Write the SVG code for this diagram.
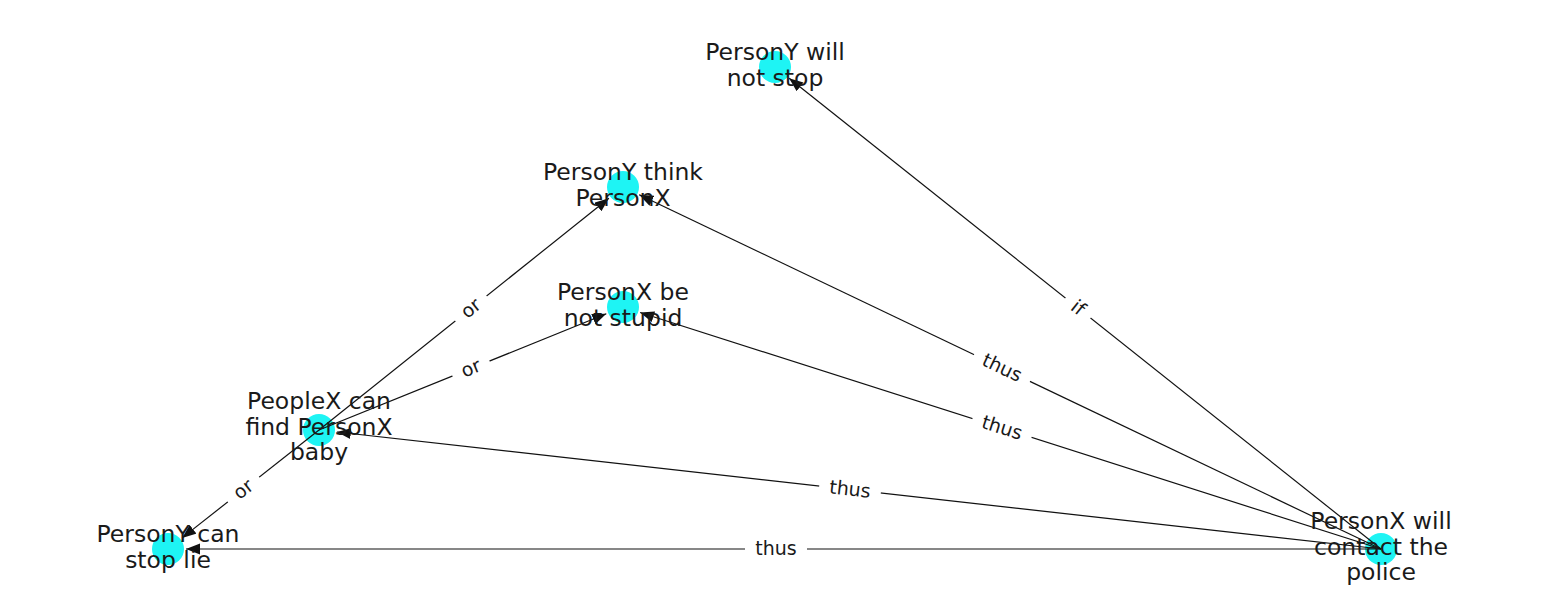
<svg xmlns="http://www.w3.org/2000/svg" width="1550" height="616" viewBox="0 0 1550 616">
<defs>
<marker id="arr" markerUnits="userSpaceOnUse" markerWidth="15" markerHeight="12" refX="14" refY="5.5" orient="auto">
<path d="M0,0 L14,5.5 L0,11 z" fill="#111"/>
</marker>
<style>
.node circle{fill:#1ef4f4;}
.node text{font-family:"DejaVu Sans",sans-serif;font-size:23.5px;fill:#1a1a1a;text-anchor:middle;}
.edge line{stroke:#111;stroke-width:1.2;marker-end:url(#arr);}
.lbl rect{fill:#fff;}
.lbl text{font-family:"DejaVu Sans",sans-serif;font-size:19px;fill:#1a1a1a;text-anchor:middle;}
</style>
</defs>
<rect width="1550" height="616" fill="#fff"/>
<g id="node-circles">
<g class="node" id="n1c"><circle cx="775" cy="67" r="16"/></g>
<g class="node" id="n2c"><circle cx="623" cy="187" r="16"/></g>
<g class="node" id="n3c"><circle cx="623" cy="307" r="16"/></g>
<g class="node" id="n4c"><circle cx="319" cy="430" r="16"/></g>
<g class="node" id="n5c"><circle cx="168" cy="549" r="16"/></g>
<g class="node" id="n6c"><circle cx="1381" cy="549" r="16"/></g>
</g>
<g id="connectors">
<g class="edge"><line x1="1381" y1="549" x2="789.1" y2="78.2"/></g>
<g class="edge"><line x1="1381" y1="549" x2="639.2" y2="194.8"/></g>
<g class="edge"><line x1="1381" y1="549" x2="640.1" y2="312.5"/></g>
<g class="edge"><line x1="1381" y1="549" x2="336.9" y2="432"/></g>
<g class="edge"><line x1="1381" y1="549" x2="186" y2="549"/></g>
<g class="edge"><line x1="319" y1="430" x2="608.9" y2="198.2"/></g>
<g class="edge"><line x1="319" y1="430" x2="606.3" y2="313.8"/></g>
<g class="edge"><line x1="319" y1="430" x2="182.1" y2="537.9"/></g>
<g class="lbl" transform="translate(1078,308) rotate(38.5)"><rect x="-16" y="-12" width="32" height="24" rx="4"/><text y="6">if</text></g>
<g class="lbl" transform="translate(1002,368) rotate(25.5)"><rect x="-31" y="-12" width="62" height="24" rx="4"/><text y="6">thus</text></g>
<g class="lbl" transform="translate(1002,428) rotate(17.7)"><rect x="-31" y="-12" width="62" height="24" rx="4"/><text y="6">thus</text></g>
<g class="lbl" transform="translate(850,489.5) rotate(6.4)"><rect x="-31" y="-12" width="62" height="24" rx="4"/><text y="6">thus</text></g>
<g class="lbl" transform="translate(776,549)"><rect x="-31" y="-12" width="62" height="24" rx="4"/><text y="6">thus</text></g>
<g class="lbl" transform="translate(471,308.5) rotate(-38.6)"><rect x="-20" y="-12" width="40" height="24" rx="4"/><text y="6">or</text></g>
<g class="lbl" transform="translate(471,368.5) rotate(-22)"><rect x="-20" y="-12" width="40" height="24" rx="4"/><text y="6">or</text></g>
<g class="lbl" transform="translate(243.5,489.5) rotate(-38.2)"><rect x="-20" y="-12" width="40" height="24" rx="4"/><text y="6">or</text></g>
</g>
<g class="node" id="n1"><text x="775" y="60">PersonY will</text><text x="775" y="86">not stop</text></g>
<g class="node" id="n2"><text x="623" y="180">PersonY think</text><text x="623" y="206">PersonX</text></g>
<g class="node" id="n3"><text x="623" y="300">PersonX be</text><text x="623" y="326">not stupid</text></g>
<g class="node" id="n4"><text x="319" y="409">PeopleX can</text><text x="319" y="435">find PersonX</text><text x="319" y="460">baby</text></g>
<g class="node" id="n5"><text x="168" y="542">PersonY can</text><text x="168" y="568">stop lie</text></g>
<g class="node" id="n6"><text x="1381" y="529">PersonX will</text><text x="1381" y="555">contact the</text><text x="1381" y="580">police</text></g>
</svg>
